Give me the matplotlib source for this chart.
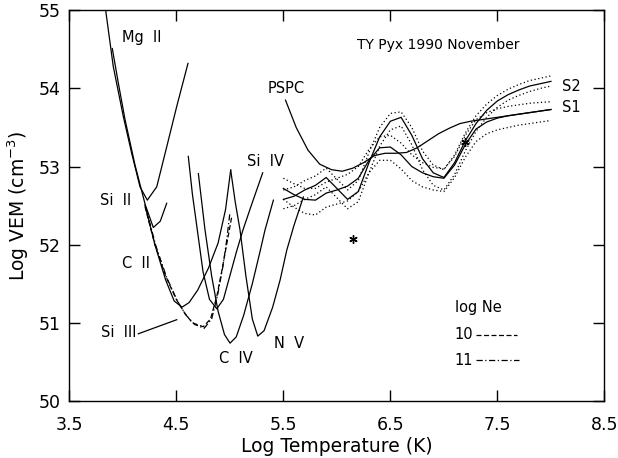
import matplotlib
matplotlib.use("Agg")
import matplotlib.pyplot as plt

# ---------------- data ----------------
mg2_x = [3.84, 3.911, 4.005, 4.083, 4.161, 4.229, 4.317, 4.41, 4.504, 4.609]
mg2_y = [55.0, 54.28, 53.64, 53.17, 52.74, 52.57, 52.74, 53.25, 53.77, 54.32]

si2_x = [3.902, 3.958, 4.021, 4.114, 4.21, 4.285, 4.35, 4.41]
si2_y = [54.51, 54.07, 53.60, 53.02, 52.51, 52.22, 52.30, 52.53]

c2_x = [4.207, 4.30, 4.40, 4.48, 4.553, 4.62, 4.70, 4.80, 4.89, 4.96, 5.008]
c2_y = [52.51, 52.00, 51.55, 51.28, 51.20, 51.26, 51.42, 51.70, 52.02, 52.45, 52.955]

si4_x = [4.612, 4.65, 4.69, 4.75, 4.81, 4.878, 4.94, 5.00, 5.06, 5.123, 5.20, 5.307]
si4_y = [53.13, 52.65, 52.25, 51.65, 51.30, 51.18, 51.30, 51.60, 51.90, 52.19, 52.50, 52.92]

c4_x = [4.706, 4.768, 4.83, 4.89, 4.95, 5.002, 5.06, 5.13, 5.21, 5.28, 5.329, 5.407]
c4_y = [52.91, 52.19, 51.60, 51.15, 50.85, 50.74, 50.82, 51.10, 51.50, 51.90, 52.19, 52.57]

n5_x = [5.008, 5.05, 5.095, 5.15, 5.21, 5.261, 5.32, 5.40, 5.47, 5.532, 5.60, 5.687]
n5_y = [52.955, 52.55, 52.19, 51.60, 51.05, 50.83, 50.90, 51.20, 51.55, 51.93, 52.25, 52.61]

si3_ne10_x = [4.207, 4.30, 4.40, 4.50, 4.58, 4.65, 4.752, 4.82, 4.88, 4.93, 4.97, 5.018]
si3_ne10_y = [52.49, 52.00, 51.60, 51.30, 51.12, 51.00, 50.95, 51.05, 51.35, 51.70, 52.00, 52.36]

si3_ne11_x = [4.215, 4.31, 4.41, 4.51, 4.59, 4.67, 4.76, 4.83, 4.885, 4.935, 4.97, 5.00]
si3_ne11_y = [52.47, 51.98, 51.58, 51.28, 51.10, 50.98, 50.93, 51.05, 51.35, 51.72, 52.05, 52.40]

s_x = [5.5, 5.6, 5.7, 5.8, 5.9, 6.0, 6.1, 6.2, 6.3, 6.4, 6.5, 6.6, 6.7,
       6.8, 6.9, 7.0, 7.1, 7.2, 7.3, 7.4, 7.5, 7.6, 7.7, 7.8, 7.9, 8.0]
s1_y = [52.72, 52.64, 52.58, 52.57, 52.66, 52.70, 52.75, 52.85, 53.08, 53.24, 53.25, 53.15, 53.00,
        52.92, 52.87, 52.85, 53.02, 53.28, 53.48, 53.57, 53.62, 53.65, 53.67, 53.69, 53.71, 53.73]
s1_hi = [52.85, 52.78, 52.72, 52.72, 52.80, 52.85, 52.90, 53.00, 53.22, 53.38, 53.40, 53.30, 53.15,
         53.05, 52.99, 52.97, 53.13, 53.40, 53.60, 53.69, 53.74, 53.77, 53.79, 53.81, 53.82, 53.83]
s1_lo = [52.58, 52.48, 52.40, 52.38, 52.48, 52.52, 52.56, 52.68, 52.92, 53.08, 53.08, 52.97, 52.82,
         52.74, 52.70, 52.68, 52.86, 53.12, 53.32, 53.42, 53.47, 53.50, 53.53, 53.55, 53.57, 53.59]
s2_y = [52.58, 52.62, 52.70, 52.76, 52.86, 52.72, 52.58, 52.68, 53.05, 53.38, 53.58, 53.63, 53.40,
        53.10, 52.92, 52.86, 53.05, 53.33, 53.55, 53.72, 53.84, 53.92, 53.98, 54.03, 54.06, 54.09]
s2_hi = [52.70, 52.74, 52.82, 52.88, 52.98, 52.84, 52.70, 52.82, 53.18, 53.50, 53.68, 53.70, 53.50,
         53.20, 53.02, 52.96, 53.15, 53.43, 53.65, 53.80, 53.91, 53.99, 54.05, 54.10, 54.13, 54.16]
s2_lo = [52.46, 52.50, 52.58, 52.64, 52.74, 52.60, 52.46, 52.55, 52.92, 53.26, 53.47, 53.52, 53.28,
         52.96, 52.76, 52.70, 52.90, 53.20, 53.45, 53.63, 53.76, 53.85, 53.91, 53.96, 54.00, 54.03]

pspc_x = [5.52, 5.62, 5.73, 5.84, 5.95, 6.05, 6.15, 6.25, 6.35, 6.45, 6.55, 6.65,
          6.75, 6.85, 6.95, 7.05, 7.15, 7.25, 7.35, 7.5, 7.7, 7.9, 8.0]
pspc_y = [53.85, 53.50, 53.21, 53.03, 52.96, 52.94, 52.98, 53.05, 53.14, 53.17, 53.17, 53.18,
          53.24, 53.33, 53.42, 53.49, 53.55, 53.58, 53.60, 53.63, 53.67, 53.71, 53.73]

star_x = [6.15, 7.20]
star_y = [52.07, 53.32]

x_ticks = [3.5, 4.5, 5.5, 6.5, 7.5, 8.5]
y_ticks = [50, 51, 52, 53, 54, 55]

# ---------------- figure ----------------
plt.rcParams['font.family'] = ['DejaVu Sans']
fig = plt.figure(figsize=(6.18, 4.58), dpi=100)
ax = fig.add_axes([0.1121, 0.1245, 0.8660, 0.8531])
lw = 0.9
k = 'black'

for xs, ys in [(mg2_x, mg2_y), (si2_x, si2_y), (c2_x, c2_y), (si4_x, si4_y),
               (c4_x, c4_y), (n5_x, n5_y), (s_x, s1_y), (s_x, s2_y), (pspc_x, pspc_y)]:
    ax.plot(xs, ys, color=k, lw=lw)

ax.plot(si3_ne10_x, si3_ne10_y, color=k, lw=lw, linestyle=(0, (4, 2)))
ax.plot(si3_ne11_x, si3_ne11_y, color=k, lw=lw, linestyle=(0, (5, 2, 1, 2)))

for band in (s1_hi, s1_lo, s2_hi, s2_lo):
    ax.plot(s_x, band, color=k, lw=0.9, linestyle=(0, (1, 2)))

ax.plot(star_x, star_y, linestyle='none', marker=(6, 2, 0), ms=6, mew=1.0, color=k)

# labels
fs = 10.5
ax.text(3.99, 54.65, 'Mg  II', fontsize=fs, ha='left', va='center')
ax.text(5.35, 54.0, 'PSPC', fontsize=fs, ha='left', va='center')
ax.text(3.79, 52.57, 'Si  II', fontsize=fs, ha='left', va='center')
ax.text(3.99, 51.76, 'C  II', fontsize=fs, ha='left', va='center')
ax.text(3.80, 50.87, 'Si  III', fontsize=fs, ha='left', va='center')
ax.plot([4.145, 4.504], [50.86, 51.04], color=k, lw=lw)
ax.text(5.158, 53.06, 'Si  IV', fontsize=fs, ha='left', va='center')
ax.text(4.90, 50.54, 'C  IV', fontsize=fs, ha='left', va='center')
ax.text(5.41, 50.74, 'N  V', fontsize=fs, ha='left', va='center')
ax.text(8.10, 54.03, 'S2', fontsize=fs, ha='left', va='center')
ax.text(8.10, 53.76, 'S1', fontsize=fs, ha='left', va='center')
ax.text(6.19, 54.56, 'TY Pyx 1990 November', fontsize=10, ha='left', va='center')

# legend
ax.text(7.10, 51.19, 'log Ne', fontsize=fs, ha='left', va='center')
ax.text(7.10, 50.85, '10', fontsize=fs, ha='left', va='center')
ax.text(7.10, 50.52, '11', fontsize=fs, ha='left', va='center')
ax.plot([7.30, 7.68], [50.85, 50.85], color=k, lw=lw, linestyle=(0, (4, 2)))
ax.plot([7.30, 7.70], [50.52, 50.52], color=k, lw=lw, linestyle=(0, (5, 2, 1, 2)))

ax.set_xlim(3.5, 8.5)
ax.set_ylim(50, 55)
ax.set_xticks(x_ticks)
ax.set_xticklabels([f'{v:.1f}' for v in x_ticks])
ax.set_yticks(y_ticks)
ax.tick_params(direction='in', length=8, width=1, top=True, right=True,
               labelsize=12.5, pad=6)
ax.tick_params(axis='x', pad=11)
for s in ax.spines.values():
    s.set_linewidth(1.0)
ax.set_xlabel('Log Temperature (K)', fontsize=13.5, labelpad=2)
ax.set_ylabel('Log VEM (cm$^{-3}$)', fontsize=13.5, labelpad=6)

fig.savefig('out.png', dpi=100)
